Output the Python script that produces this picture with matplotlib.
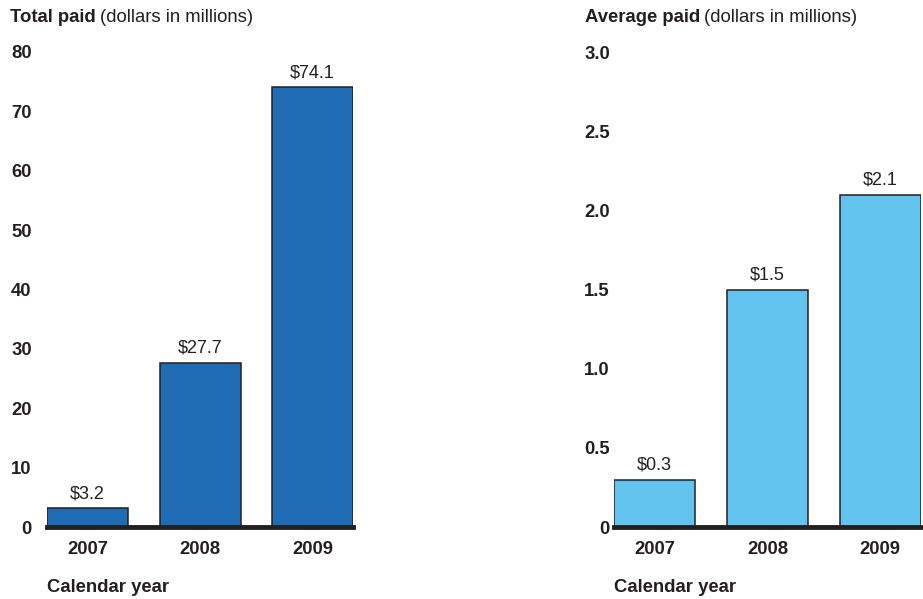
import matplotlib
matplotlib.use("Agg")
from matplotlib import pyplot as plt
import numpy as np

plt.rcParams['font.family'] = ['Liberation Sans', 'DejaVu Sans']

years = ['2007', '2008', '2009']
total_paid = [3.2, 27.7, 74.1]
average_paid = [0.3, 1.5, 2.1]
total_ticks = [0, 10, 20, 30, 40, 50, 60, 70, 80]
total_ticklabels = ['0', '10', '20', '30', '40', '50', '60', '70', '80']
avg_ticks = [0, 0.5, 1.0, 1.5, 2.0, 2.5, 3.0]
avg_ticklabels = ['0', '0.5', '1.0', '1.5', '2.0', '2.5', '3.0']

fig = plt.figure(figsize=(9.23, 5.99), dpi=100)
W, H = 923, 599
txt = '#231f20'
fs = 13.3

def make_panel(x0, x1, values, color, ticks, ticklabels, ymax, pad, title_bold, title_x):
    ax = fig.add_axes([x0 / W, 1 - 527 / H, (x1 - x0) / W, (527 - 52) / H])
    x = np.arange(len(values))
    ax.bar(x, values, width=0.72, color=color, edgecolor='#231f20', linewidth=1.1, zorder=2)
    for xi, v in zip(x, values):
        ax.annotate('${:.1f}'.format(v), (xi, v), xytext=(0, 4), textcoords='offset points',
                    ha='center', va='bottom', fontsize=13, color=txt)
    ax.set_xlim(-0.36, len(values) - 1 + 0.36)
    ax.set_ylim(0, ymax)
    ax.axhline(0, color=txt, linewidth=3.5, zorder=3, clip_on=False)
    ax.set_yticks(ticks)
    ax.set_yticklabels(ticklabels, fontweight='bold', fontsize=fs, color=txt)
    ax.set_xticks(x)
    ax.set_xticklabels(years, fontweight='bold', fontsize=fs, color=txt)
    ax.tick_params(axis='y', length=0, pad=pad)
    ax.tick_params(axis='x', length=0, pad=10)
    for s in ax.spines.values():
        s.set_visible(False)
    ax.patch.set_alpha(0)
    fig.text(x0 / W, 1 - 587 / H, 'Calendar year', fontweight='bold', fontsize=fs,
             ha='left', va='center', color=txt)
    t = fig.text(title_x / W, 1 - 18 / H, title_bold, fontweight='bold', fontsize=fs,
                 ha='left', va='center', color=txt)
    fig.canvas.draw()
    bb = t.get_window_extent()
    fig.text((bb.x1 + 4) / W, 1 - 18 / H, '(dollars in millions)', fontsize=fs,
             ha='left', va='center', color=txt)
    return ax

make_panel(47, 353, total_paid, '#1f6bb4', total_ticks, total_ticklabels, 80, 11,
           'Total paid', 10)
make_panel(614, 921, average_paid, '#62c4ee', avg_ticks, avg_ticklabels, 3.0, 3,
           'Average paid', 585)

fig.savefig('out.png', dpi=100)
